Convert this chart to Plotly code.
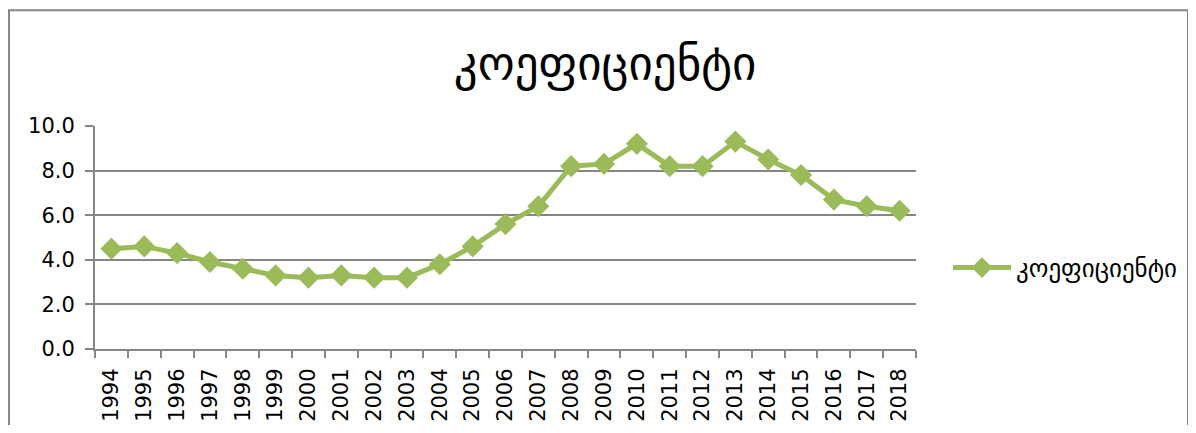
import plotly.graph_objects as go

years = [str(y) for y in range(1994, 2019)]
values = [4.5, 4.6, 4.3, 3.9, 3.6, 3.3, 3.2, 3.3, 3.2, 3.2, 3.8, 4.6, 5.6,
          6.4, 8.2, 8.3, 9.2, 8.2, 8.2, 9.3, 8.5, 7.8, 6.7, 6.4, 6.2]
series_name = "კოეფიციენტი"
title_text = "კოეფიციენტი"
y_ticks = [0, 2, 4, 6, 8, 10]

FONT = "'DejaVu Sans', sans-serif"
GREEN = "#9BBB59"
GRID = "#868686"

# page body has an 8px margin; positions below are in figure pixels
W, H = 1188, 417
L, R, T, B = 87, 908, 118, 341.3
pw, ph = R - L, B - T

fig = go.Figure()
fig.add_trace(go.Scatter(
    x=years, y=values, name=series_name, mode="lines+markers",
    line=dict(color=GREEN, width=5),
    marker=dict(symbol="diamond", size=17, color=GREEN),
))

fig.update_layout(
    width=W, height=H,
    margin=dict(l=L, r=W - R, t=T, b=H - B, autoexpand=False),
    paper_bgcolor="white", plot_bgcolor="white",
    font=dict(family=FONT, color="black", size=21),
    title=dict(text=title_text, x=(597 - L) / pw, xref="paper", xanchor="center",
               y=1 - 56 / H, yanchor="middle", font=dict(size=47, family=FONT)),
    showlegend=True,
    legend=dict(x=(940 - L) / pw, y=(B - 260) / ph, xanchor="left", yanchor="middle",
                font=dict(size=25, family=FONT), bgcolor="rgba(0,0,0,0)",
                itemwidth=58),
    xaxis=dict(type="category", range=[-0.5, len(years) - 0.5],
               showgrid=False, showline=True, linecolor=GRID, linewidth=2,
               ticks="outside", ticklen=7, tickcolor=GRID, tickwidth=2,
               tickson="boundaries", tickangle=-90, tickfont=dict(size=21),
               ticklabelstandoff=9, zeroline=False),
    yaxis=dict(range=[0, 10], tickvals=y_ticks, tickformat=".1f",
               showgrid=True, gridcolor=GRID, gridwidth=2,
               showline=True, linecolor=GRID, linewidth=2,
               ticks="outside", ticklen=8, tickcolor=GRID, tickwidth=2,
               tickfont=dict(size=21), ticklabelstandoff=6, zeroline=False),
)

# outer chart border
fig.add_shape(type="rect", xref="paper", yref="paper",
              x0=(1 - L) / pw, x1=(1180 - L) / pw,
              y0=(B - 440) / ph, y1=(B - 2) / ph,
              line=dict(color=GRID, width=2), fillcolor="rgba(0,0,0,0)", layer="below")

fig.write_html("out.html")
